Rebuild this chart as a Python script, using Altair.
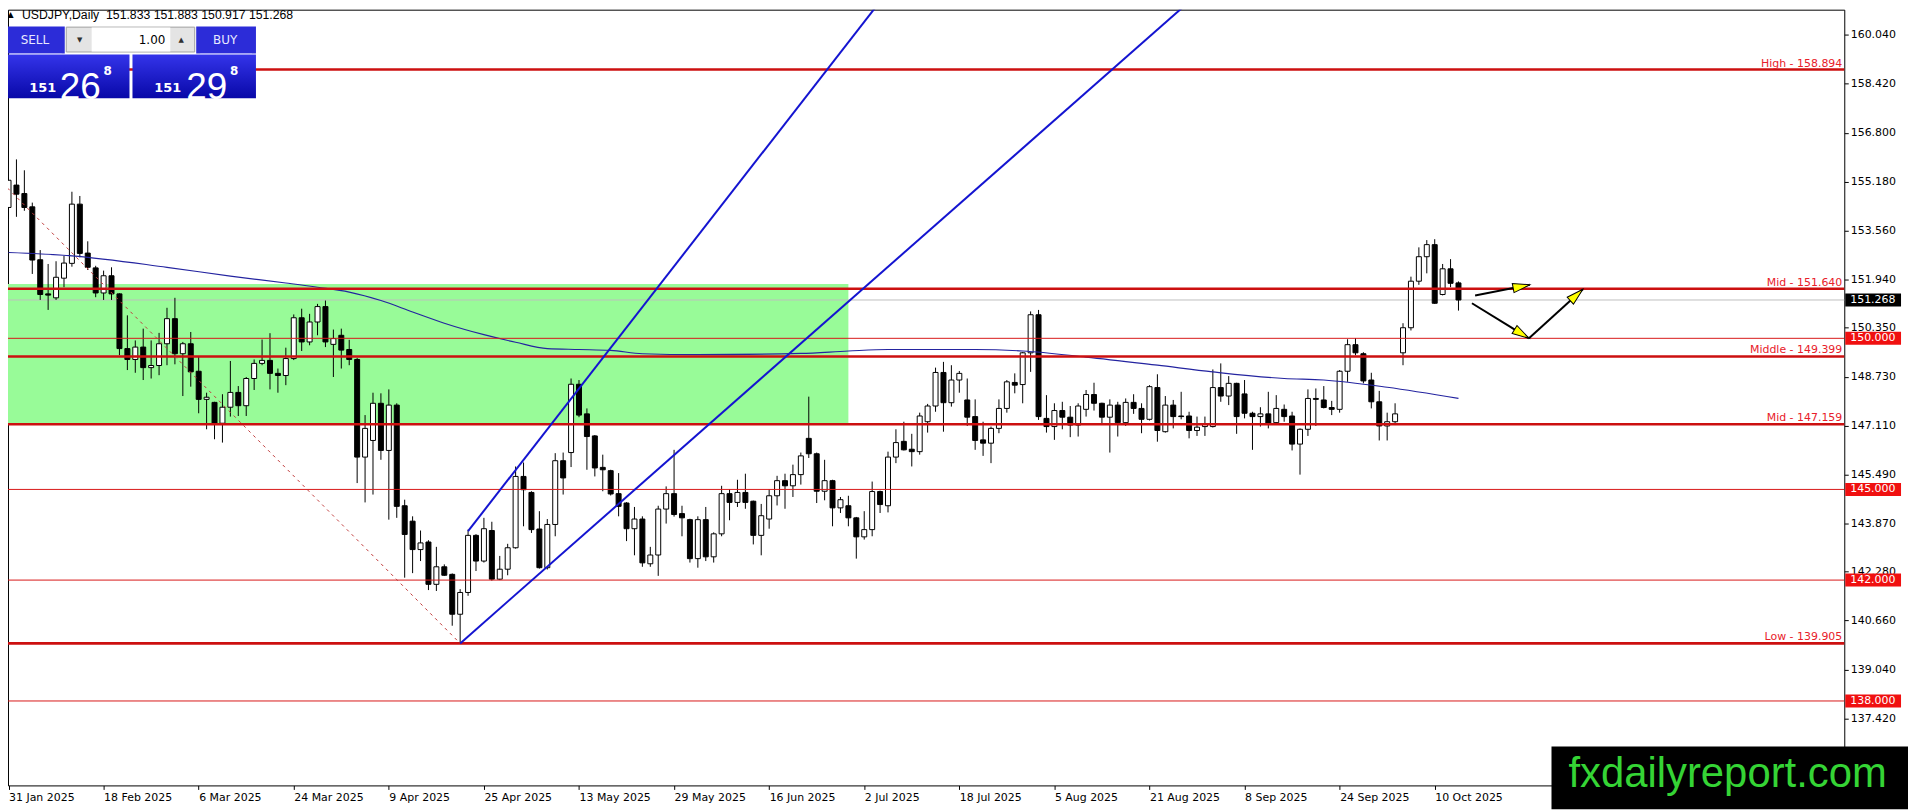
import math
import json
import altair as alt
import pandas as pd

# ---------------- data ----------------
opens = [154.33,155.07,154.79,154.35,152.60,151.47,151.34,151.99,152.48,154.44,
         152.82,152.33,151.50,152.07,151.47,149.66,149.30,149.71,149.03,149.10,
         149.82,150.65,149.49,149.82,148.91,147.98,147.88,147.19,147.72,148.21,
         147.77,148.67,149.17,149.27,148.84,148.77,149.33,150.68,149.88,150.54,
         151.05,149.80,150.10,149.63,149.30,146.07,146.62,147.85,146.29,147.79,
         144.46,143.95,143.01,143.26,141.86,142.44,142.19,140.87,141.59,143.48,
         142.63,143.64,142.03,142.36,143.07,145.43,144.90,143.69,142.41,143.84,
         145.95,146.22,148.48,147.50,146.77,145.73,145.62,144.86,144.55,143.70,
         144.02,142.54,142.83,144.35,144.86,144.20,144.00,142.71,144.00,142.77,
         143.53,144.86,144.57,144.90,144.61,143.48,144.02,144.79,145.29,145.12,
         145.49,146.69,146.18,144.94,145.29,144.39,144.46,144.06,143.43,143.67,
         144.93,144.46,146.07,146.59,146.33,146.25,147.24,147.76,148.87,147.87,
         148.62,147.96,147.41,146.64,146.53,147.02,147.68,148.54,148.47,149.52,
         150.78,147.35,147.08,147.61,147.39,147.13,147.65,148.14,147.85,147.39,
         147.79,147.21,147.88,147.68,147.32,148.37,146.91,147.79,147.43,147.43,
         146.95,147.08,147.08,148.37,148.09,148.51,148.16,147.52,147.41,147.50,
         147.21,147.65,147.43,146.50,146.99,148.01,147.96,147.71,147.65,148.91,
         149.79,149.49,148.62,147.90,147.10,147.24,149.52,150.35,151.89,152.70,
         153.10,151.45,152.30,151.833]
highs = [155.32,155.92,155.56,154.49,152.92,152.46,152.55,152.73,154.85,154.71,
         153.21,152.40,152.24,152.35,151.49,150.76,149.93,150.32,149.93,150.18,
         151.01,151.34,149.88,150.21,149.38,148.20,147.90,148.15,149.25,148.42,
         148.72,149.30,149.96,150.17,149.00,149.69,150.79,150.98,150.81,151.14,
         151.25,150.29,150.32,149.95,149.35,147.46,148.20,148.18,148.31,147.85,
         144.66,144.11,143.64,143.32,143.10,142.52,142.22,141.70,143.67,143.52,
         144.06,143.93,142.80,143.20,145.76,145.89,144.94,144.28,144.02,146.20,
         146.22,148.67,148.62,147.68,146.80,146.15,145.65,145.54,144.58,144.42,
         144.11,143.10,144.46,145.10,146.31,144.46,144.03,144.11,144.42,143.58,
         145.12,145.01,145.32,145.52,144.63,144.52,145.01,145.45,145.52,145.82,
         146.22,148.07,146.22,145.98,145.32,144.75,144.79,144.09,144.28,145.26,
         144.96,146.25,146.99,147.24,146.84,147.54,147.83,149.03,149.22,149.11,
         148.92,148.67,147.98,147.24,147.08,147.98,148.62,148.84,149.55,150.89,
         150.94,148.12,147.85,147.90,147.76,147.85,148.29,148.53,147.87,147.98,
         147.90,148.01,148.15,147.85,148.45,148.81,148.09,147.96,148.23,147.57,
         147.41,147.41,148.97,149.17,148.75,148.53,148.62,147.57,147.72,148.23,
         148.12,147.81,147.57,147.02,148.31,148.34,148.42,147.93,148.95,149.97,
         150.01,149.54,148.86,148.26,147.54,147.85,150.50,152.04,153.01,153.25,
         153.28,152.46,152.62,151.883]
lows = [153.94,154.02,154.22,152.13,151.27,150.94,151.27,151.69,152.37,152.68,
        152.26,151.36,151.27,151.27,149.44,148.95,148.86,148.62,148.67,148.78,
        149.11,149.14,148.09,148.40,147.52,146.99,146.66,146.55,147.41,147.43,
        147.43,148.29,149.11,148.31,148.20,148.45,149.28,149.58,149.77,150.10,
        149.71,148.72,149.00,149.11,145.21,144.57,144.83,145.98,144.00,144.06,
        142.08,142.23,142.63,141.67,141.64,142.14,140.49,139.905,141.48,142.30,
        142.58,141.98,142.00,142.16,143.04,143.78,143.56,142.38,142.35,143.45,
        144.83,145.74,147.39,145.65,145.43,144.94,144.80,144.11,143.29,142.82,
        142.44,142.44,142.14,143.87,144.10,143.45,142.58,142.41,142.63,142.58,
        143.45,143.98,144.42,144.36,143.18,142.82,143.70,144.47,144.36,144.75,
        145.16,146.04,144.55,144.64,143.78,144.22,143.78,142.71,143.34,143.45,
        144.22,144.24,145.87,146.29,145.76,146.15,146.88,147.57,146.91,147.74,
        148.20,147.10,146.31,146.11,145.87,146.86,147.54,148.18,147.85,148.89,
        147.30,146.88,146.64,146.99,146.73,146.75,147.41,147.61,147.13,146.22,
        146.75,147.10,147.50,146.86,147.28,146.58,146.88,147.02,147.32,146.69,
        146.77,146.77,147.05,147.90,147.79,146.84,147.35,146.31,147.08,147.02,
        147.19,147.24,146.29,145.49,146.77,147.10,147.68,147.46,147.54,148.56,
        149.44,148.51,147.68,146.62,146.62,147.13,149.11,150.26,151.77,152.15,
        151.14,151.42,151.69,150.917]
closes = [155.23,154.77,154.33,152.59,151.45,151.43,152.02,152.49,154.44,152.81,
          152.35,151.50,152.07,151.47,149.66,149.30,149.71,149.03,149.10,149.82,
          150.65,149.49,149.82,148.89,147.98,148.05,147.19,147.72,148.21,147.77,
          148.67,149.17,149.27,148.84,148.77,149.33,150.68,149.88,150.54,151.05,
          149.88,149.99,149.61,149.30,146.07,147.02,147.85,146.29,147.79,144.44,
          143.51,143.01,143.23,141.86,142.44,142.16,140.87,141.59,143.48,142.63,
          143.70,142.03,142.36,143.07,145.43,144.99,143.67,142.41,143.84,145.95,
          145.38,148.48,147.46,146.75,145.71,145.65,144.85,144.44,143.70,144.02,
          142.57,142.83,144.35,144.86,144.17,144.06,142.71,144.00,142.77,143.53,
          144.86,144.57,144.90,144.57,143.48,144.13,144.79,145.29,145.12,145.49,
          146.11,146.18,144.94,145.29,144.39,144.66,144.06,143.43,143.67,144.93,
          144.50,146.07,146.55,146.31,146.25,147.43,147.76,148.87,147.87,148.62,
          148.84,147.39,146.62,146.53,147.02,147.68,148.56,148.45,149.52,150.78,
          147.41,147.08,147.61,147.39,147.13,147.76,148.14,147.85,147.39,147.79,
          147.21,147.88,147.68,147.32,148.40,146.95,147.79,147.41,147.41,146.95,
          147.06,147.17,148.37,148.09,148.51,147.41,147.52,147.41,147.50,147.19,
          147.68,147.41,146.50,146.99,148.01,147.98,147.71,147.65,148.91,149.79,
          149.52,148.59,147.90,147.10,147.24,147.50,150.35,151.89,152.70,153.10,
          151.16,152.30,151.82,151.268]

date_labels = ["31 Jan 2025", "18 Feb 2025", "6 Mar 2025", "24 Mar 2025",
               "9 Apr 2025", "25 Apr 2025", "13 May 2025", "29 May 2025",
               "16 Jun 2025", "2 Jul 2025", "18 Jul 2025", "5 Aug 2025",
               "21 Aug 2025", "8 Sep 2025", "24 Sep 2025", "10 Oct 2025"]
date_label_bars = [0, 12, 24, 36, 48, 60, 72, 84, 96, 108, 120, 132, 144, 156, 168, 180]

price_ticks = [160.04, 158.42, 156.80, 155.18, 153.56, 151.94, 150.35, 148.73,
               147.11, 145.49, 143.87, 142.28, 140.66, 139.04, 137.42]

# moving average read at sparse bars
ma_bar = [0, 8, 20, 28, 35, 39, 43, 47, 51, 55, 60, 64, 68, 72, 76, 80, 87, 100,
          106, 111, 122, 128, 136, 145, 152, 161, 166, 174, 183]
ma_val = [152.84, 152.73, 152.35, 152.06, 151.83, 151.69, 151.53, 151.25, 150.87,
          150.50, 150.12, 149.87, 149.66, 149.63, 149.60, 149.49, 149.46, 149.50,
          149.58, 149.63, 149.63, 149.58, 149.38, 149.11, 148.89, 148.67, 148.62,
          148.38, 148.01]

# horizontal levels
thick_prices = [158.894, 151.640, 149.399, 147.159, 139.905]
thick_labels = ["High - 158.894", "Mid - 151.640", "Middle - 149.399",
                "Mid - 147.159", "Low - 139.905"]
thin_prices = [150.000, 145.000, 142.000, 138.000]
current_price = 151.268

# zone (rectangle) bars / prices
zone_bar = [-30, 106]
zone_price = [147.159, 151.80]

# trend lines (bar, price) -> (bar, price)
trend_x = [58, 57]
trend_y = [143.62, 139.905]
trend_x2 = [112, 152]
trend_y2 = [161.82, 161.83]

# fibonacci diagonal (dashed)
fib_x, fib_y, fib_x2, fib_y2 = -15, 158.894, 57, 139.905

# arrows
arr_x = [185.1, 184.7, 191.9]
arr_y = [151.42, 151.16, 150.00]
arr_x2 = [192.0, 191.9, 198.7]
arr_y2 = [151.77, 150.00, 151.62]

header_text = "USDJPY,Daily\u00a0\u00a0151.833 151.883 150.917 151.268"

# ---------------- layout ----------------
W, H = 1844, 779
X0 = 0.5625
X1 = X0 + W / 8.0
Y1 = 160.874
Y0 = 135.206
FONT = "DejaVu Sans"
RED = "#f01010"
RED_TXT = "#e8202a"

xs = alt.Scale(domain=[X0, X1], nice=False, zero=False)
ys = alt.Scale(domain=[Y0, Y1], nice=False, zero=False)

label_expr = "%s[round(datum.value / 12)]" % json.dumps(date_labels)
X_AX = alt.Axis(values=date_label_bars, labelExpr=label_expr, orient="bottom",
                title=None, grid=False, domain=False, ticks=True, tickSize=4,
                tickColor="black", labelAlign="left", labelBaseline="top",
                labelFont=FONT, labelFontSize=11, labelColor="black",
                labelPadding=2, labelFlush=False, labelOverlap=False, labelBound=False)
Y_AX = alt.Axis(values=price_ticks, format=".3f", orient="right", title=None,
                grid=False, domain=False, ticks=True, tickSize=4, tickColor="black",
                labelFont=FONT, labelFontSize=11, labelColor="black",
                labelPadding=2, labelFlush=False, labelOverlap=False)


def X(f):
    return alt.X(f, scale=xs, axis=X_AX, title=None)


def Y(f):
    return alt.Y(f, scale=ys, axis=Y_AX, title=None)


one = pd.DataFrame({"_": [0]})

n = len(opens)
cdf = pd.DataFrame({"i": list(range(n)), "o": opens, "h": highs, "l": lows, "c": closes})

zone = alt.Chart(pd.DataFrame({"x": [zone_bar[0]], "x2": [zone_bar[1]],
                               "y": [zone_price[0]], "y2": [zone_price[1]]})).mark_rect(
    color="#98fb98", clip=True).encode(x=X("x:Q"), x2="x2:Q", y=Y("y:Q"), y2="y2:Q")

bid_line = alt.Chart(pd.DataFrame({"p": [current_price]})).mark_rule(
    color="#c0c0c0", strokeWidth=1).encode(y=Y("p:Q"))

wicks = alt.Chart(cdf).mark_rule(color="black", strokeWidth=1, clip=True).encode(
    x=X("i:Q"), y=Y("l:Q"), y2="h:Q")
bodies = alt.Chart(cdf).mark_bar(size=5, stroke="black", strokeWidth=1, clip=True).encode(
    x=X("i:Q"), y=Y("o:Q"), y2="c:Q",
    fill=alt.condition("datum.c >= datum.o", alt.value("white"), alt.value("black")))

ma = alt.Chart(pd.DataFrame({"i": ma_bar, "v": ma_val})).mark_line(
    color="#2424a0", strokeWidth=1.2, interpolate="monotone", clip=True).encode(
    x=X("i:Q"), y=Y("v:Q"))

thick = alt.Chart(pd.DataFrame({"p": thick_prices, "t": thick_labels}))
thick_rules = thick.mark_rule(color="#cc1010", strokeWidth=2.6).encode(y=Y("p:Q"))
thick_text = thick.mark_text(align="right", baseline="alphabetic", dy=-3, font=FONT,
                             fontSize=11, color=RED_TXT).encode(
    x=alt.value(W - 2), y=Y("p:Q"), text="t:N")
thin_rules = alt.Chart(pd.DataFrame({"p": thin_prices})).mark_rule(
    color="#d81818", strokeWidth=1).encode(y=Y("p:Q"))

trend = alt.Chart(pd.DataFrame({"x": trend_x, "y": trend_y, "x2": trend_x2, "y2": trend_y2})).mark_rule(
    color="#1414d0", strokeWidth=2, clip=True).encode(x=X("x:Q"), y=Y("y:Q"), x2="x2:Q", y2="y2:Q")

fib = alt.Chart(pd.DataFrame({"x": [fib_x], "y": [fib_y], "x2": [fib_x2], "y2": [fib_y2]})).mark_rule(
    color="#c03a3a", strokeWidth=1, strokeDash=[3, 4], clip=True).encode(
    x=X("x:Q"), y=Y("y:Q"), x2="x2:Q", y2="y2:Q")

# arrows
ppx = W / (X1 - X0)
ppy = H / (Y1 - Y0)
angs = []
for a, b, c, d in zip(arr_x, arr_y, arr_x2, arr_y2):
    dx = (c - a) * ppx
    dy = -(d - b) * ppy
    angs.append(math.degrees(math.atan2(dx, -dy)) % 360)
adf = pd.DataFrame({"x": arr_x, "y": arr_y, "x2": arr_x2, "y2": arr_y2, "ang": angs})
arrow_lines = alt.Chart(adf).mark_rule(color="black", strokeWidth=2).encode(
    x=X("x:Q"), y=Y("y:Q"), x2="x2:Q", y2="y2:Q")
HEAD = "M0,0L0.55,2L-0.55,2Z"
arrow_heads = alt.Chart(adf).mark_point(shape=HEAD, size=289, filled=True, fill="#ffff00",
                                        stroke="black", strokeWidth=1, opacity=1).encode(
    x=X("x2:Q"), y=Y("y2:Q"), angle=alt.Angle("ang:Q", scale=None))

# price tags on the axis
BOX = "M0,-0.232L2,-0.232L2,0.232L0,0.232Z"
tag_df = pd.DataFrame({"p": thin_prices + [current_price],
                       "bg": [RED] * len(thin_prices) + ["black"],
                       "t": ["%.3f" % v for v in thin_prices] + ["%.3f" % current_price]})
tags = alt.Chart(tag_df).mark_point(shape=BOX, size=3136, filled=True, opacity=1,
                                    strokeWidth=0).encode(
    x=alt.value(W + 1), y=Y("p:Q"), color=alt.Color("bg:N", scale=None))
tag_text = alt.Chart(tag_df).mark_text(align="left", baseline="middle", font=FONT,
                                       fontSize=11, color="white").encode(
    x=alt.value(W + 6), y=Y("p:Q"), text="t:N")


# ---------------- one-click panel & header ----------------
def box(x, x2, y, y2, **kw):
    return alt.Chart(one).mark_rect(**kw).encode(
        x=alt.value(x), x2=alt.value(x2), y=alt.value(y), y2=alt.value(y2))


def txt(x, y, s, **kw):
    kw.setdefault("font", FONT)
    return alt.Chart(one).mark_text(text=s, **kw).encode(x=alt.value(x), y=alt.value(y))


grad = alt.Gradient(gradient="linear",
                    stops=[alt.GradientStop(color="#3434ea", offset=0),
                           alt.GradientStop(color="#0808a8", offset=1)],
                    x1=0, x2=0, y1=0, y2=1)
BLUE = "#2c2cd8"
panel = [
    box(-2, 57, 17, 44, color=BLUE),
    box(2, 54, 43.5, 44.5, color="#a8a8f4"),
    box(189, 249, 17, 44, color=BLUE),
    box(193, 245, 43.5, 44.5, color="#a8a8f4"),
    box(58.5, 187.5, 17.5, 42.5, fill="#e4e4e4", stroke="#a0a0a0", strokeWidth=1),
    box(84, 163, 18, 42, color="white"),
    box(-2, 122, 45, 89, fill=grad),
    box(125, 249, 45, 89, fill=grad),
    txt(27, 30, "SELL", fontSize=12, color="#e8e8ff", align="center", baseline="middle"),
    txt(218, 30, "BUY", fontSize=12, color="#e8e8ff", align="center", baseline="middle"),
    txt(158, 30, "1.00", fontSize=12, color="black", align="right", baseline="middle"),
    txt(72, 30, "\u25bc", fontSize=7, color="#303030", align="center", baseline="middle"),
    txt(174, 30, "\u25b2", fontSize=7, color="#303030", align="center", baseline="middle"),
    txt(35, 79, "151", fontSize=13, fontWeight="bold", color="white", align="center"),
    txt(52, 79, "26", font="Liberation Sans", fontSize=37, color="white", align="left"),
    txt(96, 62, "8", fontSize=12, fontWeight="bold", color="white", align="left"),
    txt(160.5, 79, "151", fontSize=13, fontWeight="bold", color="white", align="center"),
    txt(179, 79, "29", font="Liberation Sans", fontSize=37, color="white", align="left"),
    txt(223, 62, "8", fontSize=12, fontWeight="bold", color="white", align="left"),
    txt(2.5, 5, "\u25b2", fontSize=8, color="black", align="center", baseline="middle"),
    txt(14, 5.5, header_text, font="Liberation Sans", fontSize=12.3, color="black",
        align="left", baseline="middle"),
]

watermark = [
    box(1550, 1908, 740, 803, color="black"),
    txt(1567, 781, "fxdailyreport.com", font="Liberation Sans", fontSize=42,
        color="#35d435", align="left", baseline="alphabetic"),
]

chart = alt.layer(
    zone, bid_line, wicks, bodies, ma, thin_rules, thick_rules, trend, fib,
    arrow_lines, arrow_heads, thick_text, tags, tag_text, *panel, *watermark
).properties(
    width=W, height=H,
    padding={"left": 0, "top": 0, "right": 64, "bottom": 24},
    autosize=alt.AutoSizeParams(type="none"),
    background="white",
).configure_view(stroke="black", strokeWidth=1)

chart.save("out.html", embed_options={"renderer": "svg", "actions": False})
